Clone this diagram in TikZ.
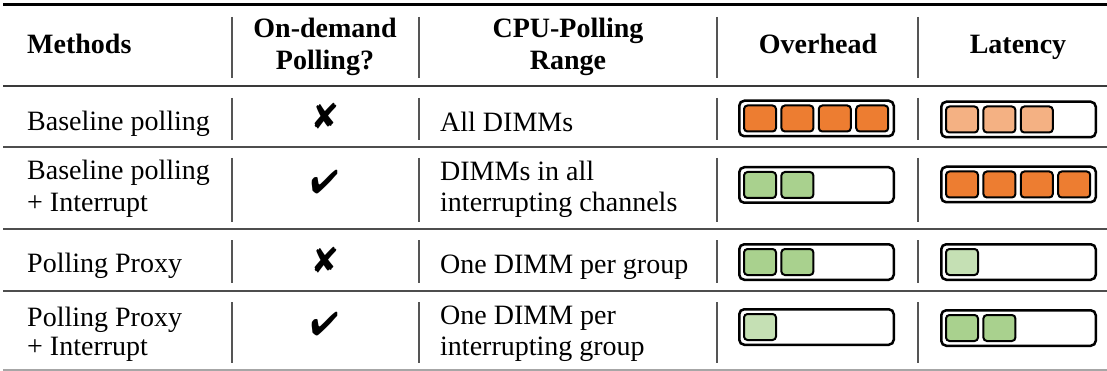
\documentclass[tikz,border=0pt]{standalone}
\usepackage{fontspec}
\usepackage{pifont}
\setmainfont{Liberation Serif}

\definecolor{hiorange}{HTML}{ED7D31}
\definecolor{loorange}{HTML}{F4B183}
\definecolor{higreen}{HTML}{A9D18E}
\definecolor{logreen}{HTML}{C5E0B4}
\definecolor{rulegray}{HTML}{3A3A3A}
\definecolor{sepgray}{HTML}{555555}

% level bar: #1 name, #2 centre x, #3 centre y, #4 filled cells, #5 cell colour
\newcommand{\levelbar}[5]{%
  \node[barframe] (#1) at (#2,#3) {};
  \foreach \k in {1,...,#4}{%
    \node[barcell, fill=#5] (#1-\k) at ({#2-56.5+(\k-1)*37.4},#3) {};
  }%
}

\tikzset{
  txt/.style={inner sep=0pt, font=\fontsize{28}{32}\selectfont},
  head/.style={txt, font=\fontsize{28}{32}\selectfont\bfseries},
  tickmark/.style={inner sep=0pt, font=\fontsize{33}{36}\selectfont},
  crossmark/.style={inner sep=0pt, font=\fontsize{36}{40}\selectfont},
  barframe/.style={draw=black, line width=2.5pt, rounded corners=5pt, fill=white,
    minimum width=154.5pt, minimum height=35.5pt, inner sep=0pt},
  barcell/.style={draw=black, line width=2pt, rounded corners=3.5pt,
    minimum width=32pt, minimum height=26pt, inner sep=0pt},
  toprule/.style={line width=3pt, black},
  midrule/.style={line width=2.5pt, rulegray},
  rowrule/.style={line width=2pt, rulegray!90},
  botrule/.style={line width=1.5pt, black!35},
  colsep/.style={line width=1.5pt, sepgray}
}

\begin{document}
\begin{tikzpicture}[x=1pt, y=-1pt]
\useasboundingbox (0,0) rectangle (1107,371);
\fill[white] (0,0) rectangle (1107,371);

% horizontal rules
\coordinate (rA0) at (3,5);     \coordinate (rA1) at (1107,5);
\coordinate (rB0) at (3,86);    \coordinate (rB1) at (1107,86);
\coordinate (rC0) at (3,147);   \coordinate (rC1) at (1107,147);
\coordinate (rD0) at (3,229);   \coordinate (rD1) at (1107,229);
\coordinate (rE0) at (3,291);   \coordinate (rE1) at (1107,291);
\coordinate (rF0) at (3,370);   \coordinate (rF1) at (1107,370);
\draw[toprule] (rA0) -- (rA1);
\draw[midrule] (rB0) -- (rB1);
\draw[rowrule] (rC0) -- (rC1);
\draw[rowrule] (rD0) -- (rD1);
\draw[rowrule] (rE0) -- (rE1);
\draw[botrule] (rF0) -- (rF1);

% column separators, one short stroke per row
\foreach \sx in {232,419,717,918}{
  \foreach \ya/\yb in {17/78, 98/140, 158/222, 240/283, 302/363}{
    \draw[colsep] (\sx,\ya) -- (\sx,\yb);
  }
}

% header
\node[head, anchor=base west] (hMethods) at (27,54) {Methods};
\node[head, anchor=base] (hOnA) at (325,38) {On-demand};
\node[head, anchor=base] (hOnB) at (325,70) {Polling?};
\node[head, anchor=base] (hCpuA) at (568,38) {CPU-Polling};
\node[head, anchor=base] (hCpuB) at (568,70) {Range};
\node[head, anchor=base] (hOver) at (818,54) {Overhead};
\node[head, anchor=base] (hLat) at (1018,54) {Latency};

% row 1
\node[txt, anchor=base west] (m1) at (27,131) {Baseline polling};
\node[crossmark] (d1) at (325.5,115.5) {\ding{56}};
\node[txt, anchor=base west] (c1) at (440,132) {All DIMMs};
\levelbar{ov1}{816.5}{118.5}{4}{hiorange}
\levelbar{la1}{1018.5}{119.5}{3}{loorange}

% row 2
\node[txt, anchor=base west] (m2a) at (27,180) {Baseline polling};
\node[txt, anchor=base west] (m2b) at (27,212) {+ Interrupt};
\node[tickmark] (d2) at (324.5,182.5) {\ding{52}};
\node[txt, anchor=base west] (c2a) at (440,181) {DIMMs in all};
\node[txt, anchor=base west] (c2b) at (440,212) {interrupting channels};
\levelbar{ov2}{816.5}{185}{2}{higreen}
\levelbar{la2}{1018.5}{184.5}{4}{hiorange}

% row 3
\node[txt, anchor=base west] (m3) at (27,272) {Polling Proxy};
\node[crossmark] (d3) at (325.5,259.5) {\ding{56}};
\node[txt, anchor=base west] (c3) at (440,273) {One DIMM per group};
\levelbar{ov3}{816.5}{262}{2}{higreen}
\levelbar{la3}{1018.5}{262}{1}{logreen}

% row 4
\node[txt, anchor=base west] (m4a) at (27,326) {Polling Proxy};
\node[txt, anchor=base west] (m4b) at (27,355) {+ Interrupt};
\node[tickmark] (d4) at (324.5,324.5) {\ding{52}};
\node[txt, anchor=base west] (c4a) at (440,324) {One DIMM per};
\node[txt, anchor=base west] (c4b) at (440,355) {interrupting group};
\levelbar{ov4}{816.5}{327}{1}{logreen}
\levelbar{la4}{1018.5}{328}{2}{higreen}
\end{tikzpicture}
\end{document}
